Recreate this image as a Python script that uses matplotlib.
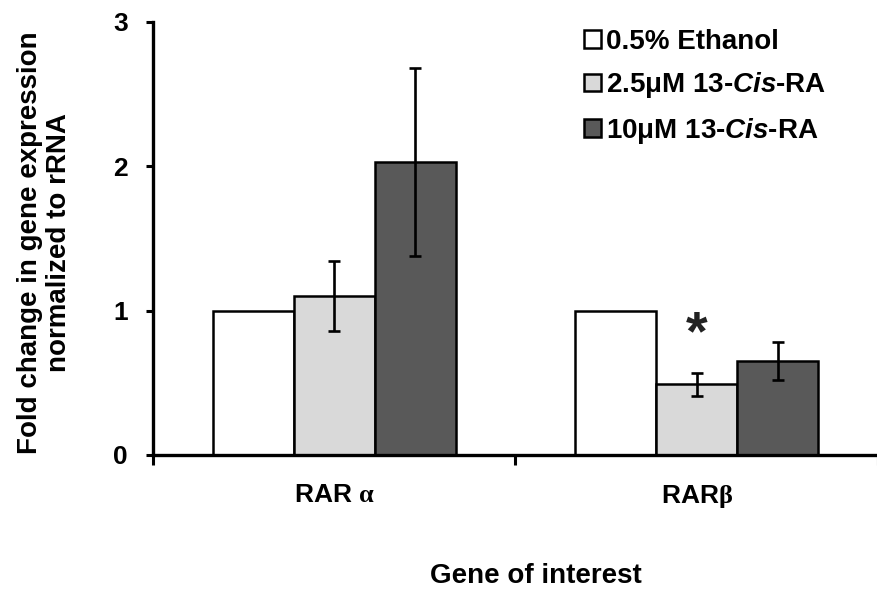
import numpy as np
import matplotlib
matplotlib.use("Agg")
from matplotlib import pyplot as plt

plt.rcParams['font.family'] = ['Liberation Sans', 'DejaVu Sans']
plt.rcParams['font.weight'] = 'bold'
plt.rcParams['axes.labelweight'] = 'bold'
plt.rcParams['mathtext.fontset'] = 'custom'
plt.rcParams['mathtext.rm'] = 'Liberation Sans:bold'
plt.rcParams['mathtext.it'] = 'Liberation Sans:italic:bold'
plt.rcParams['mathtext.sf'] = 'Liberation Serif:bold'

# ---- data ----
genes = ['RAR $\\mathsf{α}$', 'RAR$\\mathsf{β}$']
treatments = ['0.5% Ethanol', '2.5μM 13-$\\mathit{Cis}$-RA', '10μM 13-$\\mathit{Cis}$-RA']
fold = [[1.00, 1.00],
        [1.10, 0.49],
        [2.03, 0.65]]
err = [[0.0, 0.0],
       [0.24, 0.08],
       [0.65, 0.13]]
signif = [[False, False],
          [False, True],
          [False, False]]
colors = ['white', '#d9d9d9', '#595959']

W, H = 878, 592
fig = plt.figure(figsize=(W / 100, H / 100), dpi=100)
ax = fig.add_axes([153 / W, (H - 455) / H, (W - 153) / W, 433.3 / H])

x = np.arange(len(genes))
bw = 0.223
for i, (vals, e, c) in enumerate(zip(fold, err, colors)):
    pos = x + (i - 1) * bw
    ax.bar(pos, vals, bw, color=c, edgecolor='black', linewidth=1.8,
           label=treatments[i], zorder=2)
    ee = np.array(e)
    m = ee > 0
    ax.errorbar(pos[m], np.array(vals)[m], yerr=ee[m], fmt='none',
                ecolor='black', elinewidth=1.9, capsize=4.5, capthick=1.9,
                zorder=3)
    for j, s in enumerate(signif[i]):
        if s:
            ax.text(pos[j], vals[j] + e[j] + 0.16, '*', ha='center',
                    va='baseline', fontsize=40, color='#222222')

ax.set_xlim(-0.5, 1.473)
ax.set_ylim(0, 3)
ax.set_yticks([0, 1, 2, 3])
ax.set_xticks([-0.5, 0.5, 1.5])
ax.set_xticklabels([])
ax.set_xticks(x, minor=True)
ax.set_xticklabels(genes, minor=True, fontsize=19)
ax.tick_params(axis='x', which='minor', length=0, pad=20)
ax.tick_params(axis='x', which='major', length=7, width=2.2, direction='out')
ax.tick_params(axis='y', length=5, width=2.2, labelsize=19, pad=13)

for s in ['top', 'right']:
    ax.spines[s].set_visible(False)
for s in ['left', 'bottom']:
    ax.spines[s].set_linewidth(2.4)

ax.set_ylabel('Fold change in gene expression\nnormalized to rRNA',
              fontsize=20, linespacing=1.12)
ax.yaxis.set_label_coords(-0.112, 0.49)
ax.set_xlabel('Gene of interest', fontsize=20)
ax.xaxis.set_label_coords(0.528, -0.25)

leg = ax.legend(loc='upper left', bbox_to_anchor=(584 / W, 1 - 29 / H),
                bbox_transform=fig.transFigure, frameon=False, fontsize=20,
                handlelength=0.6, handleheight=0.6, handletextpad=0.2,
                labelspacing=0.55, borderpad=0, borderaxespad=0)
for p in leg.get_patches():
    p.set_linewidth(1.8)

fig.savefig('out.png', dpi=100)
